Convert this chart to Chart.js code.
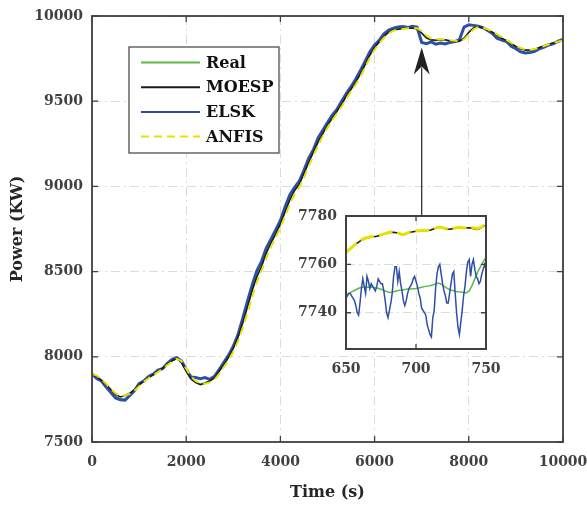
<!DOCTYPE html>
<html>
<head>
<meta charset="utf-8">
<script src="https://cdn.jsdelivr.net/npm/chart.js@4.4.1/dist/chart.umd.min.js"></script>
<style>
  html, body { margin: 0; padding: 0; background: #fff; }
  #wrap { position: relative; width: 587px; height: 505px; }
  #main { position: absolute; left: 0; top: 0; }
  #inset { position: absolute; left: 290px; top: 200px; }
</style>
</head>
<body>
<div id="wrap">
  <canvas id="main" width="587" height="505"></canvas>
  <canvas id="inset" width="215" height="190"></canvas>
</div>
<script>
// ---- main plot data (time in s, power in KW) ----
const TIME = [0,100,200,300,400,500,600,700,800,900,1000,1100,1200,1300,1400,1500,1600,1700,1800,1900,
  2000,2100,2200,2300,2400,2500,2600,2700,2800,2900,3000,3100,3200,3300,3400,3500,3600,3700,3800,3900,
  4000,4100,4200,4300,4400,4500,4600,4700,4800,4900,5000,5100,5200,5300,5400,5500,5600,5700,5800,5900,
  6000,6100,6200,6300,6400,6500,6600,6700,6800,6900,7000,7100,7200,7300,7400,7500,7600,7700,7800,7900,
  8000,8100,8200,8300,8400,8500,8600,8700,8800,8900,9000,9100,9200,9300,9400,9500,9600,9700,9800,9900,10000]

const REAL = [7892,7880,7858,7832,7800,7770,7752,7752,7775,7802,7832,7858,7876,7894,7914,7934,7956,7976,7990,7968,
  7918,7874,7852,7840,7848,7860,7878,7918,7958,7998,8052,8118,8202,8294,8392,8472,8534,8612,8672,8724,
  8784,8854,8924,8978,9015,9078,9143,9203,9263,9313,9363,9403,9443,9485,9533,9573,9615,9663,9718,9773,
  9818,9850,9882,9907,9920,9924,9929,9932,9930,9926,9898,9870,9858,9856,9860,9858,9853,9848,9850,9868,
  9903,9928,9936,9930,9917,9904,9887,9869,9854,9837,9821,9807,9799,9799,9804,9814,9824,9834,9841,9849,9854]

const MOESP = [7895,7885,7862,7838,7808,7780,7764,7772,7786,7808,7836,7860,7878,7896,7915,7935,7957,7977,7990,7966,
  7915,7870,7848,7836,7845,7858,7876,7915,7955,7996,8050,8115,8198,8290,8388,8468,8530,8608,8668,8720,
  8780,8850,8920,8975,9012,9075,9140,9200,9260,9310,9360,9400,9440,9482,9530,9570,9612,9660,9715,9770,
  9815,9848,9880,9905,9918,9922,9927,9930,9928,9925,9900,9872,9860,9858,9862,9860,9855,9850,9852,9870,
  9905,9930,9937,9930,9918,9905,9888,9870,9855,9838,9822,9808,9800,9800,9805,9815,9825,9835,9842,9850,9855]

const ELSK = [7900,7872,7858,7822,7790,7758,7748,7745,7772,7800,7842,7858,7885,7898,7922,7930,7962,7985,7995,7975,
  7925,7882,7878,7872,7878,7868,7885,7925,7968,8010,8062,8130,8225,8325,8420,8505,8560,8638,8690,8745,
  8800,8880,8950,8995,9030,9095,9165,9215,9285,9330,9375,9418,9452,9500,9545,9585,9630,9680,9735,9790,
  9830,9858,9895,9918,9928,9935,9938,9932,9940,9935,9845,9838,9848,9835,9842,9836,9845,9850,9860,9935,
  9948,9945,9940,9932,9915,9898,9870,9858,9850,9822,9808,9790,9783,9786,9792,9808,9818,9830,9838,9852,9862]

const ANFIS = [7900,7890,7868,7842,7812,7786,7768,7775,7782,7800,7828,7855,7874,7892,7910,7930,7952,7972,7988,7975,
  7930,7885,7858,7845,7842,7850,7865,7900,7940,7980,8030,8090,8170,8258,8350,8438,8505,8580,8645,8700,
  8758,8825,8895,8955,8995,9050,9118,9180,9240,9295,9345,9388,9428,9468,9515,9558,9598,9645,9700,9755,
  9802,9840,9872,9898,9914,9920,9924,9928,9930,9928,9912,9885,9868,9864,9865,9862,9858,9854,9852,9862,
  9892,9922,9935,9932,9922,9908,9892,9876,9860,9842,9826,9812,9803,9802,9806,9814,9824,9834,9842,9850,9856]

const X_TICKS = [0, 2000, 4000, 6000, 8000, 10000]
const Y_TICKS = [7500, 8000, 8500, 9000, 9500, 10000]

// ---- zoomed inset data (650-750 s) ----
const INSET_TIME = [650,651,652,653,654,655,656,657,658,659,660,661,662,663,664,665,666,667,668,669,
  670,671,672,673,674,675,676,677,678,679,680,681,682,683,684,685,686,687,688,689,
  690,691,692,693,694,695,696,697,698,699,700,701,702,703,704,705,706,707,708,709,
  710,711,712,713,714,715,716,717,718,719,720,721,722,723,724,725,726,727,728,729,
  730,731,732,733,734,735,736,737,738,739,740,741,742,743,744,745,746,747,748,749,750]

const INSET_ELSK = [7746,7747,7748,7748,7747,7746,7745,7743,7740,7739,7744,7750,7754,7751,7748,7755,7753,7750,7752,7751,
  7750,7749,7751,7754,7753,7752,7752,7749,7745,7740,7738,7741,7744,7748,7755,7759,7759,7753,7757,7752,
  7749,7745,7743,7745,7748,7750,7751,7752,7754,7755,7753,7751,7748,7746,7742,7741,7740,7739,7735,7733,
  7731,7730,7738,7741,7750,7756,7759,7760,7756,7752,7749,7747,7744,7744,7748,7752,7756,7757,7748,7740,
  7734,7731,7736,7741,7747,7751,7757,7761,7762,7755,7760,7762,7758,7755,7754,7752,7753,7756,7758,7760,7758]

const INSET_TIME_2 = [650,652,654,656,658,660,662,664,666,668,670,672,674,676,678,680,682,684,686,688,
  690,692,694,696,698,700,702,704,706,708,710,712,714,716,718,720,722,724,726,728,
  730,732,734,736,738,740,742,744,746,748,750]

const INSET_REAL = [7747.2,7748.0,7748.6,7749.2,7749.8,7750.3,7750.5,7750.6,7750.5,7750.6,7750.4,7750.2,7749.9,7749.5,7749.0,7748.6,7748.4,7748.7,7749.0,7749.3,
  7749.4,7749.6,7749.8,7749.8,7749.9,7750.0,7750.2,7750.5,7750.8,7751.0,7751.2,7751.5,7751.9,7752.3,7751.8,7751.0,7750.2,7749.6,7749.2,7748.9,
  7748.7,7748.6,7748.4,7748.3,7749.0,7751.2,7754.0,7756.8,7759.0,7761.0,7763.0]

const INSET_MOESP = [7764.9,7765.8,7766.8,7767.9,7768.8,7769.6,7770.2,7770.7,7771.0,7771.3,7771.4,7771.6,7771.9,7772.3,7772.6,7773.0,7773.2,7773.3,7773.1,7772.7,
  7772.2,7772.4,7772.9,7773.3,7773.5,7773.7,7773.8,7773.9,7774.0,7774.0,7774.1,7774.5,7774.9,7775.2,7775.2,7774.9,7774.6,7774.5,7774.7,7774.9,
  7775.1,7775.1,7774.9,7775.0,7775.1,7774.9,7774.5,7774.4,7774.9,7775.6,7776.2]

const INSET_ANFIS = [7765.0,7766.0,7767.0,7768.0,7769.0,7769.8,7770.4,7770.9,7771.2,7771.4,7771.5,7771.7,7772.0,7772.4,7772.7,7773.1,7773.4,7773.5,7773.3,7772.8,
  7772.3,7772.5,7773.0,7773.4,7773.6,7773.8,7773.9,7774.0,7774.1,7774.1,7774.2,7774.6,7775.0,7775.3,7775.3,7775.0,7774.7,7774.6,7774.8,7775.0,
  7775.3,7775.2,7775.0,7775.2,7775.4,7775.3,7774.9,7774.8,7775.2,7775.9,7776.4]

const INSET_X_TICKS = [650, 700, 750]
const INSET_Y_TICKS = [7740, 7760, 7780]

// arrow from inset up to the dip near 7000 s (data coords)
const ARROW = {x: 7000, from: 8830, to: 9815}

const GREEN = '#5cb947'
const BLACK = '#1a1a1a'
const BLUE = '#2f4fa6'
const YELLOW = '#e6e200'
const AXIS = '#404040'
const FONT = '"DejaVu Serif", serif'

const pts = (xs, ys) => xs.map((x, i) => ({x, y: ys[i]}))

// box round the plot area, with inward ticks on all four sides
const boxPlugin = {
  id: 'box',
  beforeDraw(chart, args, o) {
    if (!o.fill) return
    const a = chart.chartArea
    chart.ctx.save()
    chart.ctx.fillStyle = '#fff'
    chart.ctx.fillRect(a.left, a.top, a.width, a.height)
    chart.ctx.restore()
  },
  afterDatasetsDraw(chart, args, o) {
    const {ctx, chartArea: a} = chart
    const {x, y} = chart.scales
    ctx.save()
    ctx.strokeStyle = AXIS
    ctx.lineWidth = 1.3
    ctx.beginPath()
    x.ticks.forEach(t => {
      const p = x.getPixelForValue(t.value)
      ctx.moveTo(p, a.bottom); ctx.lineTo(p, a.bottom - o.len)
      ctx.moveTo(p, a.top); ctx.lineTo(p, a.top + o.len)
    })
    y.ticks.forEach(t => {
      const p = y.getPixelForValue(t.value)
      ctx.moveTo(a.left, p); ctx.lineTo(a.left + o.len, p)
      ctx.moveTo(a.right, p); ctx.lineTo(a.right - o.len, p)
    })
    ctx.stroke()
    ctx.lineWidth = o.width
    ctx.strokeRect(a.left, a.top, a.width, a.height)
    ctx.restore()
  }
}

const legendBox = {
  id: 'legendBox',
  afterDraw(chart, args, o) {
    const ctx = chart.ctx
    ctx.save()
    ctx.fillStyle = '#fff'
    ctx.fillRect(o.x, o.y, o.w, o.h)
    ctx.strokeStyle = AXIS
    ctx.lineWidth = 1.2
    ctx.strokeRect(o.x, o.y, o.w, o.h)
    ctx.font = 'bold 16px ' + FONT
    ctx.textBaseline = 'middle'
    chart.data.datasets.forEach((ds, i) => {
      const yy = o.y + o.first + i * o.step
      ctx.strokeStyle = ds.borderColor
      ctx.lineWidth = 2
      ctx.setLineDash(ds.borderDash || [])
      ctx.beginPath()
      ctx.moveTo(o.x + 12, yy)
      ctx.lineTo(o.x + 71, yy)
      ctx.stroke()
      ctx.setLineDash([])
      ctx.fillStyle = '#111'
      ctx.fillText(ds.label, o.x + 77, yy + 1)
    })
    ctx.restore()
  }
}

const arrowPlugin = {
  id: 'arrow',
  afterDraw(chart) {
    const {ctx} = chart
    const {x, y} = chart.scales
    const px = x.getPixelForValue(ARROW.x)
    const y0 = y.getPixelForValue(ARROW.from)
    const y1 = y.getPixelForValue(ARROW.to)
    ctx.save()
    ctx.strokeStyle = '#222'
    ctx.fillStyle = '#222'
    ctx.lineWidth = 1.2
    ctx.beginPath()
    ctx.moveTo(px, y0)
    ctx.lineTo(px, y1 + 20)
    ctx.stroke()
    ctx.beginPath()
    ctx.moveTo(px, y1)
    ctx.lineTo(px - 8, y1 + 27)
    ctx.lineTo(px, y1 + 19)
    ctx.lineTo(px + 8, y1 + 27)
    ctx.closePath()
    ctx.fill()
    ctx.restore()
  }
}

// linear axis with fixed ticks; size fixes the box size, padding overhang is dropped
function axis(min, max, ticks, pad, size, title) {
  const horizontal = size.height !== undefined
  return {
    type: 'linear',
    min, max,
    afterBuildTicks: s => { s.ticks = ticks.map(v => ({value: v})) },
    afterFit: s => {
      if (horizontal) { s.height = size.height; s.paddingLeft = 0; s.paddingRight = 0 }
      else { s.width = size.width; s.paddingTop = 0; s.paddingBottom = 0 }
    },
    grid: {color: '#dcdcdc', lineWidth: 1, drawTicks: false},
    border: {display: false, dash: [9, 4, 2, 4]},
    ticks: {
      color: AXIS, padding: pad,
      font: {family: FONT, size: 14, weight: 'bold'},
      callback: v => String(v)
    },
    title: title || {display: false}
  }
}

new Chart(document.getElementById('main'), {
  type: 'line',
  data: {
    datasets: [
      {label: 'Real', data: pts(TIME, REAL), borderColor: GREEN, borderWidth: 1.5, order: 3},
      {label: 'MOESP', data: pts(TIME, MOESP), borderColor: BLACK, borderWidth: 1.5, order: 1},
      {label: 'ELSK', data: pts(TIME, ELSK), borderColor: BLUE, borderWidth: 3, order: 2},
      {label: 'ANFIS', data: pts(TIME, ANFIS), borderColor: YELLOW, borderWidth: 2, borderDash: [8, 5], order: 0},
    ]
  },
  options: {
    responsive: false,
    animation: false,
    devicePixelRatio: 1,
    elements: {point: {radius: 0}, line: {tension: 0}},
    layout: {padding: {top: 16, right: 24, left: 0, bottom: 0}},
    plugins: {
      legend: {display: false},
      tooltip: {enabled: false},
      box: {len: 6, width: 1.8},
      legendBox: {x: 129, y: 47, w: 150, h: 106, first: 15.5, step: 24.7},
    },
    scales: {
      x: axis(0, 10000, X_TICKS, 12, {height: 63}, {
        display: true, text: 'Time (s)', color: '#262626',
        font: {family: FONT, size: 16, weight: 'bold'}, padding: {top: 0, bottom: 3}}),
      y: axis(7500, 10000, Y_TICKS, 9, {width: 92}, {
        display: true, text: 'Power (KW)', color: '#262626',
        font: {family: FONT, size: 16, weight: 'bold'}, padding: {top: 8, bottom: 0}}),
    }
  },
  plugins: [boxPlugin, legendBox, arrowPlugin]
})

new Chart(document.getElementById('inset'), {
  type: 'line',
  data: {
    datasets: [
      {label: 'Real', data: pts(INSET_TIME_2, INSET_REAL), borderColor: GREEN, borderWidth: 1.5, order: 3},
      {label: 'MOESP', data: pts(INSET_TIME_2, INSET_MOESP), borderColor: BLACK, borderWidth: 1.5, order: 1},
      {label: 'ELSK', data: pts(INSET_TIME, INSET_ELSK), borderColor: BLUE, borderWidth: 1.5, order: 2},
      {label: 'ANFIS', data: pts(INSET_TIME_2, INSET_ANFIS), borderColor: YELLOW, borderWidth: 3, borderDash: [14, 5], order: 0},
    ]
  },
  options: {
    responsive: false,
    animation: false,
    devicePixelRatio: 1,
    elements: {point: {radius: 0}, line: {tension: 0}},
    layout: {padding: {top: 16, right: 19, left: 0, bottom: 0}},
    plugins: {
      legend: {display: false},
      tooltip: {enabled: false},
      box: {len: 5, width: 2, fill: true},
    },
    scales: {
      x: axis(650, 750, INSET_X_TICKS, 12, {height: 41}),
      y: axis(7725, 7780, INSET_Y_TICKS, 9, {width: 56}),
    }
  },
  plugins: [boxPlugin]
})
</script>
</body>
</html>
